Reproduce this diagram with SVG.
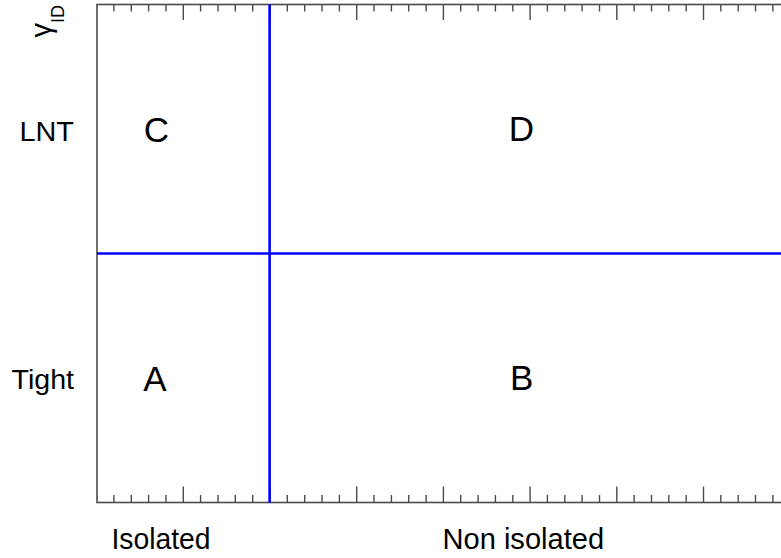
<svg xmlns="http://www.w3.org/2000/svg" width="781" height="558" viewBox="0 0 781 558">
<style>
.frame{fill:none;stroke:#4a4a4a;stroke-width:1.6}
.tick{fill:none;stroke:#4a4a4a;stroke-width:1.4}
.cut{fill:none;stroke:#0000ff;stroke-width:2.6}
.lbl{font-family:"Liberation Sans",Arial,sans-serif;fill:#000}
.big{font-size:35px;text-anchor:middle}
.ax{font-size:30px;text-anchor:middle}
.ay{font-size:27px;text-anchor:end}
</style>
<rect width="781" height="558" fill="#fff"/>
<g id="frame">
<rect class="frame" x="97" y="4.5" width="720" height="498"/>
</g>
<g id="ticks">
<path class="tick" d="M113.9 4.5V11.5M131.3 4.5V11.5M148.6 4.5V11.5M166 4.5V11.5M200.6 4.5V11.5M218 4.5V11.5M235.3 4.5V11.5M252.7 4.5V11.5M287.3 4.5V11.5M304.7 4.5V11.5M322 4.5V11.5M339.4 4.5V11.5M374 4.5V11.5M391.4 4.5V11.5M408.7 4.5V11.5M426.1 4.5V11.5M460.7 4.5V11.5M478.1 4.5V11.5M495.4 4.5V11.5M512.8 4.5V11.5M547.4 4.5V11.5M564.8 4.5V11.5M582.1 4.5V11.5M599.5 4.5V11.5M634.1 4.5V11.5M651.5 4.5V11.5M668.8 4.5V11.5M686.2 4.5V11.5M720.8 4.5V11.5M738.2 4.5V11.5M755.5 4.5V11.5M772.9 4.5V11.5"/>
<path class="tick" d="M183.3 4.5V20M270 4.5V20M356.7 4.5V20M443.4 4.5V20M530.1 4.5V20M616.8 4.5V20M703.5 4.5V20"/>
<path class="tick" d="M113.9 502.5V495M131.3 502.5V495M148.6 502.5V495M166 502.5V495M200.6 502.5V495M218 502.5V495M235.3 502.5V495M252.7 502.5V495M287.3 502.5V495M304.7 502.5V495M322 502.5V495M339.4 502.5V495M374 502.5V495M391.4 502.5V495M408.7 502.5V495M426.1 502.5V495M460.7 502.5V495M478.1 502.5V495M495.4 502.5V495M512.8 502.5V495M547.4 502.5V495M564.8 502.5V495M582.1 502.5V495M599.5 502.5V495M634.1 502.5V495M651.5 502.5V495M668.8 502.5V495M686.2 502.5V495M720.8 502.5V495M738.2 502.5V495M755.5 502.5V495M772.9 502.5V495"/>
<path class="tick" d="M183.3 502.5V486.5M270 502.5V486.5M356.7 502.5V486.5M443.4 502.5V486.5M530.1 502.5V486.5M616.8 502.5V486.5M703.5 502.5V486.5"/>
</g>
<g id="connectors">
<path class="cut" d="M269.6 4.5V502.5"/>
<path class="cut" d="M97 253.5H781"/>
</g>
<g id="region-C"><text class="lbl big" x="156.5" y="142">C</text></g>
<g id="region-D"><text class="lbl big" x="521.3" y="141">D</text></g>
<g id="region-A"><text class="lbl big" x="155" y="391">A</text></g>
<g id="region-B"><text class="lbl big" x="521.7" y="390">B</text></g>
<g id="y-labels">
<text class="lbl ay" x="74" y="141" textLength="54.5" lengthAdjust="spacingAndGlyphs">LNT</text>
<text class="lbl ay" x="74" y="388.5" textLength="62.5" lengthAdjust="spacingAndGlyphs">Tight</text>
<text class="lbl" transform="translate(50.5,37.5) rotate(-90)" font-size="29">γ<tspan font-size="18" dy="13.5">ID</tspan></text>
</g>
<g id="x-labels">
<text class="lbl ax" x="161" y="548.5" textLength="99" lengthAdjust="spacingAndGlyphs">Isolated</text>
<text class="lbl ax" x="523.3" y="548.5" textLength="161.5" lengthAdjust="spacingAndGlyphs">Non isolated</text>
</g>
</svg>
